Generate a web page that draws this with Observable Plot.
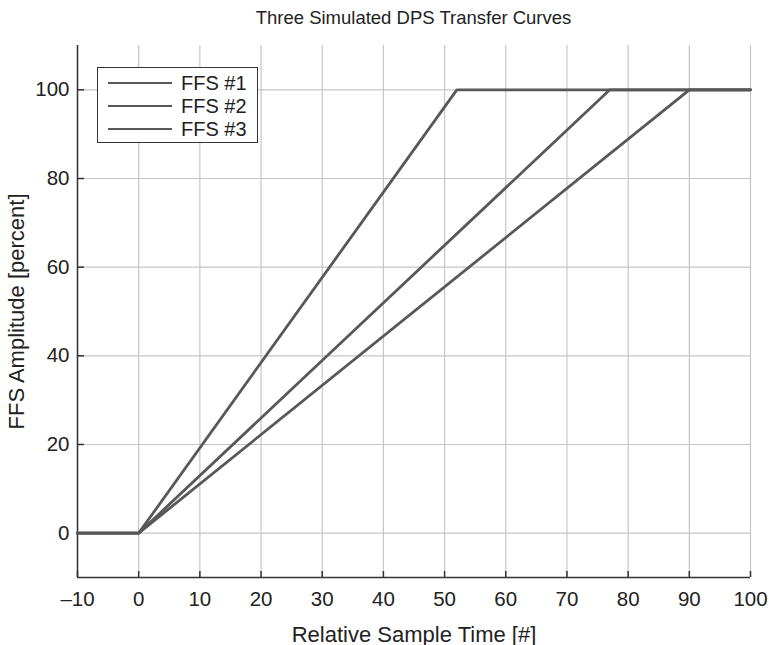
<!DOCTYPE html>
<html>
<head>
<meta charset="utf-8">
<script src="https://cdn.jsdelivr.net/npm/d3@7"></script>
<script src="https://cdn.jsdelivr.net/npm/@observablehq/plot@0.6"></script>
<style>
  html, body { margin: 0; padding: 0; background: white; }
  #wrap { position: relative; width: 769px; height: 645px; font-family: "Liberation Sans", Arial, sans-serif; }
  #title { position: absolute; left: 77px; width: 673px; top: 7px; text-align: center; font-size: 18.5px; color: #222; }
  #legend { position: absolute; left: 97px; top: 67px; width: 161px; height: 76px; border: 1px solid #333; background: white; box-sizing: border-box; font-size: 20px; color: #222; }
  .row { position: absolute; left: 10px; height: 22px; display: flex; align-items: center; }
  .row .sw { width: 64px; height: 0; border-top: 2.6px solid #585858; margin-right: 9px; }
</style>
</head>
<body>
<div id="wrap">
  <div id="title">Three Simulated DPS Transfer Curves</div>
  <div id="chart"></div>
  <div id="legend"></div>
</div>
<script>
const seriesNames = ["FFS #1", "FFS #2", "FFS #3"];
const ffs1X = [-10, 0, 52, 100];
const ffs1Y = [0, 0, 100, 100];
const ffs2X = [-10, 0, 77, 100];
const ffs2Y = [0, 0, 100, 100];
const ffs3X = [-10, 0, 90, 100];
const ffs3Y = [0, 0, 100, 100];
const xTicks = [-10, 0, 10, 20, 30, 40, 50, 60, 70, 80, 90, 100];
const yTicks = [0, 20, 40, 60, 80, 100];

const seriesX = [ffs1X, ffs2X, ffs3X];
const seriesY = [ffs1Y, ffs2Y, ffs3Y];
const data = seriesNames.flatMap((name, i) => seriesX[i].map((x, j) => ({series: name, x, y: seriesY[i][j]})));

const H = 645, mt = 45, mb = 68;
const plotH = H - mt - mb;
const plotW = 769 - 77 - 19;

const chart = Plot.plot({
  width: 769,
  height: H,
  marginTop: mt,
  marginBottom: mb,
  marginLeft: 77,
  marginRight: 19,
  style: { fontFamily: "'Liberation Sans', Arial, sans-serif", fontSize: "20.5px", background: "white", color: "#222" },
  x: { domain: [-10, 100] },
  y: { domain: [-10, 110] },
  marks: [
    Plot.gridX(xTicks, { stroke: "#c6c6c6", strokeOpacity: 1, strokeWidth: 1.2 }),
    Plot.gridY(yTicks, { stroke: "#c6c6c6", strokeOpacity: 1, strokeWidth: 1.2 }),
    Plot.axisX(xTicks, { tickSize: 0, tickPadding: 14, label: null, fontSize: 20.5, tickFormat: d => d < 0 ? "\u2013" + Math.abs(d) : String(d) }),
    Plot.axisX({ ticks: [], tickSize: 0, label: "Relative Sample Time [#]", labelAnchor: "center", labelOffset: 64, labelArrow: "none", fontSize: 22 }),
    Plot.axisY(yTicks, { tickSize: 0, tickPadding: 8, label: null, fontSize: 20.5 }),
    Plot.axisY({ ticks: [], tickSize: 0, label: "FFS Amplitude [percent]", labelAnchor: "center", labelOffset: 69, labelArrow: "none", fontSize: 22 }),
    Plot.tickX(xTicks, { stroke: "#333", strokeWidth: 1.5, insetTop: plotH - 6 }),
    Plot.tickY(yTicks, { stroke: "#333", strokeWidth: 1.5, insetRight: plotW - 7 }),
    Plot.ruleX([-10], { stroke: "#333", strokeWidth: 1.5 }),
    Plot.ruleY([-10], { stroke: "#333", strokeWidth: 1.5 }),
    Plot.line(data, { x: "x", y: "y", z: "series", stroke: "#585858", strokeWidth: 2.8 })
  ]
});
document.getElementById("chart").appendChild(chart);

const legend = document.getElementById("legend");
seriesNames.forEach((name, i) => {
  const r = document.createElement("div");
  r.className = "row";
  r.style.top = (4 + i * 23) + "px";
  r.innerHTML = `<span class="sw"></span><span>${name}</span>`;
  legend.appendChild(r);
});
</script>
</body>
</html>
